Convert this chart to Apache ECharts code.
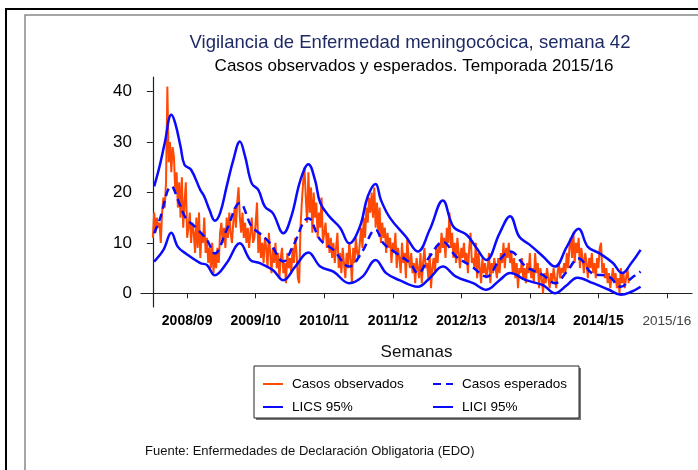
<!DOCTYPE html>
<html>
<head>
<meta charset="utf-8">
<title>Vigilancia meningocócica</title>
<script src="https://cdn.jsdelivr.net/npm/echarts@6/dist/echarts.min.js"></script>
<style>
  html, body { margin: 0; padding: 0; background: #fff; }
  #main { width: 698px; height: 470px; }
</style>
</head>
<body>
<div id="main"></div>
<script>
// temporadas (etiquetas del eje x) y semana en que se marca cada una
var seasons = ['2008/09', '2009/10', '2010/11', '2011/12', '2012/13', '2013/14', '2014/15', '2015/16'];
var seasonWeeks = [26, 78, 130, 182, 234, 286, 338, 390];
var yTicks = [0, 10, 20, 30, 40];

// casos observados, una cifra por semana desde la semana 0
var observed = [
  11,16,12,15,13,14,10,16,19,17, 22,41,26,30,24,29,27,20,24,17,
  22,15,23,13,18,22,11,13,16,10, 14,12,8,15,9,16,7,12,10,15,
  8,11,6,9,5,10,4,8,5,9,6,12,
  14,10,13,9,15,11,16,12,10,14, 17,13,18,21,15,12,16,11,14,10,
  13,9,12,15,10,11,14,18,8,12, 7,10,6,11,9,5,12,8,4,9,
  6,10,5,8,3,7,9,4,6,2,8,5,
  7,4,9,6,11,8,3,2,13,18, 22,25,19,14,24,16,21,12,20,15,
  18,11,16,13,19,10,12,14,9,12, 8,11,7,10,6,9,12,5,8,4,
  9,6,3,8,5,10,7,2,9,6,11,8,
  7,10,13,9,15,11,17,14,19,16, 20,15,21,13,18,12,17,10,14,11,
  13,8,12,9,11,6,10,8,12,5, 9,7,4,10,6,8,3,11,7,5,
  8,4,6,2,7,5,3,8,2,6,9,5,
  6,3,8,1,5,7,4,9,6,10, 8,12,9,11,7,13,10,16,9,12,
  7,10,6,11,8,5,9,7,10,6, 8,4,9,12,6,7,5,10,3,8,
  5,2,7,4,6,3,5,8,2,6,4,7,
  5,3,7,4,8,6,10,5,9,7, 10,6,8,4,7,3,6,1,5,4,
  7,3,5,2,6,4,8,3,5,2, 8,4,6,1,5,3,0,4,2,5,
  3,1,4,2,5,3,1,4,6,3,5,4,
  6,4,8,5,9,11,7,12,6,10, 8,11,5,9,7,4,8,6,3,7,
  5,8,4,6,3,7,5,9,10,4, 6,3,5,2,4,1,3,5,2,4,
  1,3,0,5,2,4,1,3,5,2
];

// casos esperados [semana, valor]
var expected = [
  [1,11.9],[5,14.5],[14,21.2],[20,17.9],[25,14.9],[32,13.2],[41,10.6],[47,7.9],
  [56,12.6],[66,17.9],[75,13.2],[81,11.9],[89,9.9],[99,6.3],[106,9.2],[118,14.9],
  [127,10.6],[137,8.6],[149,5.3],[158,7.9],[169,12.6],[175,9.9],[185,7.9],[195,6.0],
  [201,4.0],[210,7.3],[220,10.2],[230,7.3],[242,5.3],[253,3.3],[263,6.6],[271,8.3],
  [283,5.3],[296,3.6],[305,2.0],[314,4.3],[323,6.9],[333,4.0],[346,3.3],[355,1.3],
  [363,3.0],[370,4.3]
];

// límite superior del intervalo de confianza 95%
var lics = [
  [1,21.2],[5,25.1],[9,29.8],[14,35.4],[17,33.7],[21,29.1],[24,25.5],[29,24.5],
  [36,20.5],[39,19.2],[43,16.5],[47,14.4],[51,15.9],[56,21.2],[61,26.4],[66,30.1],
  [70,27.1],[75,21.8],[80,20.5],[85,17.2],[91,15.9],[99,11.9],[105,15.2],[112,22.5],
  [118,25.6],[123,22.5],[127,17.9],[134,15.2],[142,13.0],[149,9.9],[157,13.2],[163,19.2],
  [169,21.7],[173,18.5],[180,14.9],[192,11.2],[201,8.3],[210,12.6],[220,18.4],[228,13.2],
  [238,11.6],[245,9.2],[253,6.6],[263,11.9],[271,15.3],[278,11.2],[286,9.6],[296,7.3],
  [305,5.3],[314,9.2],[323,12.8],[330,9.2],[339,7.9],[349,6.0],[356,4.0],[363,6.0],[370,8.6]
];

// límite inferior del intervalo de confianza 95%
var lici = [
  [1,6.3],[8,8.6],[14,12.0],[19,9.2],[25,7.9],[36,6.0],[41,5.6],[47,3.6],
  [56,6.0],[66,9.9],[74,6.6],[81,6.0],[91,4.6],[99,2.6],[108,5.3],[118,8.1],
  [127,5.3],[137,4.3],[149,2.0],[159,3.3],[169,6.6],[177,4.0],[187,2.6],[201,1.3],
  [210,3.0],[220,5.3],[230,3.3],[243,2.0],[253,0.7],[263,2.6],[271,4.0],[283,2.6],
  [296,1.6],[305,0],[314,1.6],[322,3.1],[334,2.0],[346,0.7],[355,-0.3],[363,0.3],[370,1.3]
];

var FONT = 'Liberation Sans, Arial, sans-serif';
var BLUE = '#0a0aff';
var RED = '#ff4a05';

var observedPts = [];
for (var i = 0; i < observed.length; i++) {
  observedPts.push([i, observed[i]]);
}

var myChart = echarts.init(document.getElementById('main'));

function legendItem(name, left, top) {
  return {
    data: [name], left: left, top: top,
    padding: 0,
    itemWidth: 20, itemHeight: 10, itemGap: 8,
    selectedMode: false,
    itemStyle: { opacity: 0 },
    textStyle: { color: '#000', fontSize: 13.5, fontFamily: FONT, padding: [0, 0, 0, 4] }
  };
}

var option = {
  animation: false,
  backgroundColor: '#fff',
  textStyle: { fontFamily: FONT },
  grid: { left: 141, right: 6, top: 77, bottom: 163 },
  legend: [
    legendItem('Casos observados', 262, 377),
    legendItem('Casos esperados', 432, 377),
    legendItem('LICS 95%', 262, 400),
    legendItem('LICI 95%', 432, 400)
  ],
  xAxis: {
    type: 'value',
    min: -9, max: 409,
    name: 'Semanas',
    nameLocation: 'middle',
    nameGap: 37,
    nameTextStyle: { color: '#111', fontSize: 17, fontFamily: FONT },
    axisLine: { lineStyle: { color: '#222', width: 1.2 } },
    axisTick: { customValues: seasonWeeks, length: 5, lineStyle: { color: '#222' } },
    axisLabel: {
      customValues: seasonWeeks,
      margin: 7,
      formatter: function (v) {
        var k = seasonWeeks.indexOf(v);
        if (k === seasons.length - 1) return '{n|' + seasons[k] + '}';
        return '{b|' + seasons[k] + '}';
      },
      rich: {
        b: { fontWeight: 'bold', fontSize: 14, color: '#000', fontFamily: FONT },
        n: { fontSize: 13.5, color: '#444', fontFamily: FONT }
      }
    },
    splitLine: { show: false }
  },
  yAxis: {
    type: 'value',
    min: -2.72, max: 42.9,
    axisLine: { show: true, lineStyle: { color: '#222', width: 1.2 } },
    axisTick: { show: true, customValues: yTicks, length: 6, lineStyle: { color: '#222' } },
    axisLabel: { customValues: yTicks, margin: 9, fontSize: 17, color: '#000', fontFamily: FONT },
    splitLine: { show: false }
  },
  series: [
    {
      name: 'Casos observados', type: 'line', data: observedPts,
      symbol: 'none', color: RED,
      lineStyle: { color: RED, width: 2 }
    },
    {
      name: 'Casos esperados', type: 'line', data: expected,
      symbol: 'none', smooth: 0.4, color: BLUE,
      lineStyle: { color: BLUE, width: 2.5, type: [8, 5] }
    },
    {
      name: 'LICS 95%', type: 'line', data: lics,
      symbol: 'none', smooth: 0.4, color: BLUE,
      lineStyle: { color: BLUE, width: 2.5 }
    },
    {
      name: 'LICI 95%', type: 'line', data: lici,
      symbol: 'none', smooth: 0.4, color: BLUE,
      lineStyle: { color: BLUE, width: 2.5 }
    }
  ],
  graphic: [
    // marco exterior negro y marco interior gris
    { type: 'rect', shape: { x: 6, y: 9, width: 720, height: 480 }, style: { fill: 'none', stroke: '#000', lineWidth: 2 }, z: 0 },
    { type: 'rect', shape: { x: 25, y: 15, width: 700, height: 480 }, style: { fill: 'none', stroke: '#888', lineWidth: 1.5 }, z: 0 },
    // títulos
    { type: 'text', x: 410, y: 43, style: { text: 'Vigilancia de Enfermedad meningocócica, semana 42', font: '18.5px ' + FONT, fill: '#1e2a66', textAlign: 'center', textVerticalAlign: 'middle' } },
    { type: 'text', x: 414, y: 66, style: { text: 'Casos observados y esperados. Temporada 2015/16', font: '17px ' + FONT, fill: '#000', textAlign: 'center', textVerticalAlign: 'middle' } },
    // caja de la leyenda con sombra
    { type: 'rect', shape: { x: 256, y: 368, width: 325, height: 52 }, style: { fill: '#777', stroke: 'none' }, z: 1 },
    { type: 'rect', shape: { x: 254, y: 366, width: 325, height: 52 }, style: { fill: '#fff', stroke: '#222', lineWidth: 1 }, z: 2 },
    // fuente
    { type: 'text', x: 145, y: 451, style: { text: 'Fuente: Enfermedades de Declaración Obligatoria (EDO)', font: '13px ' + FONT, fill: '#111', textVerticalAlign: 'middle' } }
  ]
};
myChart.setOption(option);
</script>
</body>
</html>
